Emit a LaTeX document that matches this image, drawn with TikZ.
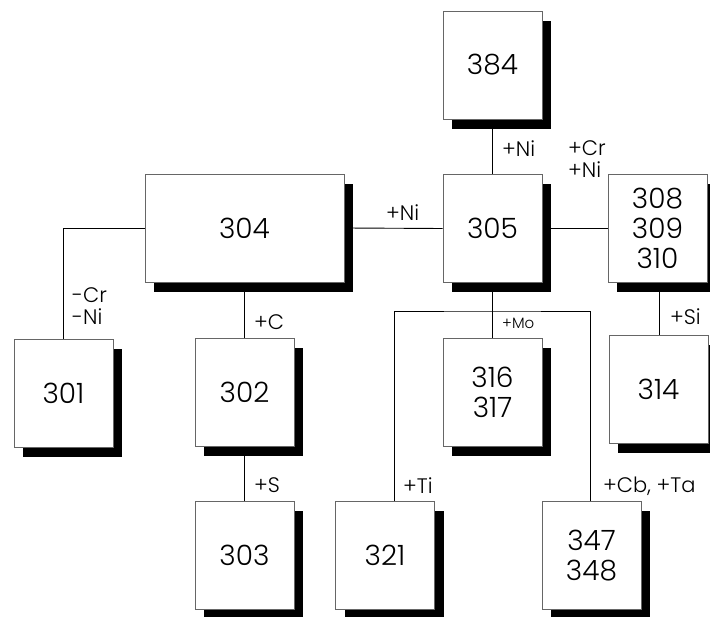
\documentclass[tikz,border=0pt]{standalone}
\usepackage{fontspec}
\setmainfont{Poppins}[UprightFont={* Light}]
\usetikzlibrary{shadows,backgrounds}
\tikzset{
  grade/.style={draw=black!60, fill=white, line width=0.8pt, minimum width=99pt, minimum height=108pt,
    inner sep=0pt, align=center, font=\fontsize{28}{30}\selectfont,
    drop shadow={shadow xshift=9pt, shadow yshift=-10pt, fill=black, opacity=1}},
  add/.style={anchor=west, inner sep=0pt, align=left, font=\fontsize{21}{22}\selectfont},
  link/.style={line width=0.9pt}
}
\begin{document}
\begin{tikzpicture}[x=1pt,y=-1pt]
    \useasboundingbox (0,0) rectangle (710,617);
    \node[grade, minimum width=199pt] (n304) at (244.5,228) {304};
    \node[grade] (n384) at (492.5,65) {384};
    \node[grade] (n305) at (492.5,228.5) {305};
    \node[grade] (n308) at (657.5,228.5) {308\\309\\310};
    \node[grade] (n301) at (63.5,393) {301};
    \node[grade] (n302) at (244.5,392) {302};
    \node[grade] (n303) at (244.5,555.5) {303};
    \node[grade] (n316) at (492.5,392) {316\\317};
    \node[grade] (n314) at (658.5,389) {314};
    \node[grade] (n321) at (385,555.5) {321};
    \node[grade] (n347) at (591.5,555.5) {347\\348};
    \coordinate (bar) at (492.5,311);
    \begin{scope}[on background layer]
        \draw[link] (n301.north) |- (n304.west);
        \draw[link] (n304.south) -- (n302.north);
        \draw[link] (n302.south) -- (n303.north);
        \draw[link] (n304.east) -- (n305.west);
        \draw[link] (n384.south) -- (n305.north);
        \draw[link] (n305.east) -- (n308.west);
        \draw[link] ([xshift=2pt]n308.south) -- ([xshift=1pt]n314.north);
        \draw[link] (n305.south) -- (n316.north);
        \draw[link] ([xshift=9pt]n321.north) |- (bar) -| ([xshift=-1.5pt]n347.north);
    \end{scope}
    \node[add] (l304) at (386,213) {+Ni};
    \node[add] (l384) at (502,149) {+Ni};
    \node[add] (l308) at (568,159) {+Cr\\+Ni};
    \node[add] (l301) at (72,306) {-Cr\\-Ni};
    \node[add] (l302) at (254,322) {+C};
    \node[add] (l303) at (254,485) {+S};
    \node[add, font=\fontsize{15}{17}\selectfont] (l316) at (502,323) {+Mo};
    \node[add] (l314) at (670,317) {+Si};
    \node[add] (l321) at (403,486) {+Ti};
    \node[add] (l347) at (603,486) {+Cb, +Ta};
\end{tikzpicture}
\end{document}
